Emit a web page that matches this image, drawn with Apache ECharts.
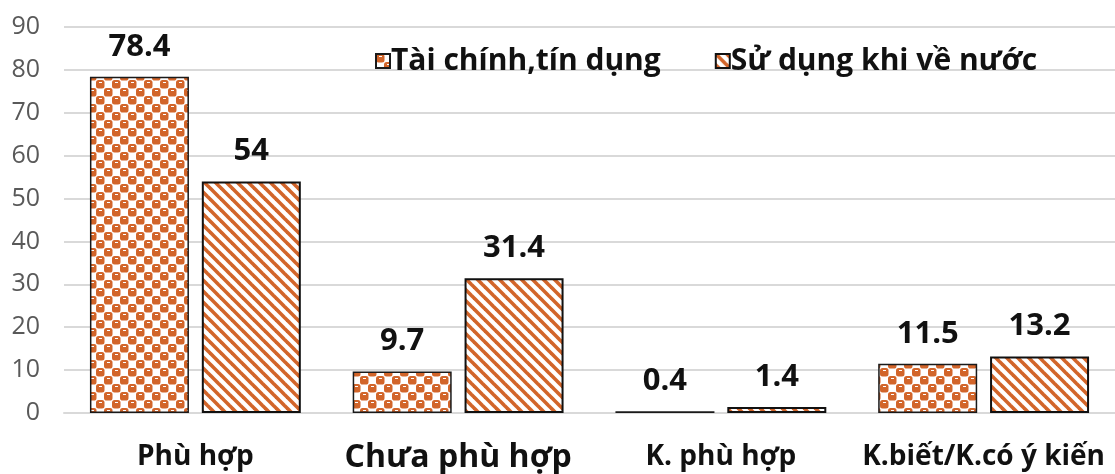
<!DOCTYPE html>
<html>
<head>
<meta charset="utf-8">
<script src="https://cdn.jsdelivr.net/npm/echarts@6/dist/echarts.min.js"></script>
<style>
  html, body { margin: 0; padding: 0; background: #fff; }
  #chart { width: 1115px; height: 474px; }
</style>
</head>
<body>
<div id="chart"></div>
<script>
// Categories, series and axis ticks
const categories = ['Phù hợp', 'Chưa phù hợp', 'K. phù hợp', 'K.biết/K.có ý kiến'];
const seriesNames = ['Tài chính,tín dụng', 'Sử dụng khi về nước'];
const financeValues = [78.4, 9.7, 0.4, 11.5];
const returnUseValues = [54, 31.4, 1.4, 13.2];
const yTicks = [0, 10, 20, 30, 40, 50, 60, 70, 80, 90];

const ORANGE = '#D2652A';
const FONT = '"Open Sans", Lato, sans-serif';

// Checker fill: orange rounded blocks on alternating cells, each with a small highlight
function checkerPattern() {
  const c = document.createElement('canvas');
  c.width = 16; c.height = 16;
  const g = c.getContext('2d');
  g.fillStyle = '#fff';
  g.fillRect(0, 0, 16, 16);
  g.fillStyle = ORANGE;
  const block = (x, y) => {
    g.beginPath();
    if (g.roundRect) g.roundRect(x, y, 8.5, 8.5, 2.5);
    else g.rect(x, y, 8.5, 8.5);
    g.fill();
  };
  [[0, 0], [8, 8], [16, 0], [-8, 8], [0, 16], [16, 16], [8, -8], [-8, -8]].forEach(p => block(p[0], p[1]));
  g.fillStyle = '#fff';
  g.fillRect(3, 2, 3, 1);
  g.fillRect(11, 10, 3, 1);
  return c;
}

// Diagonal stripes running from top-left to bottom-right
function stripePattern() {
  const s = 11;
  const c = document.createElement('canvas');
  c.width = s; c.height = s;
  const g = c.getContext('2d');
  g.fillStyle = '#fff';
  g.fillRect(0, 0, s, s);
  g.strokeStyle = ORANGE;
  g.lineWidth = 3.6;
  for (let k = -1; k <= 1; k++) {
    g.beginPath();
    g.moveTo(k * s - 2, -2);
    g.lineTo(k * s + s + 2, s + 2);
    g.stroke();
  }
  return c;
}

const chart = echarts.init(document.getElementById('chart'), null, { renderer: 'canvas' });

const labelStyle = {
  show: true,
  position: 'top',
  distance: 15,
  color: '#111',
  fontFamily: FONT,
  fontWeight: 'bold',
  fontSize: 31,
  lineHeight: 30
};

chart.setOption({
  animation: false,
  backgroundColor: '#fff',
  grid: { left: 64, right: -2, top: 27, bottom: 61, containLabel: false },
  legend: {
    top: 40,
    left: 370,
    itemWidth: 14,
    itemHeight: 14,
    itemGap: 54,
    icon: 'rect',
    textStyle: { fontFamily: FONT, fontWeight: 'bold', fontSize: 30, lineHeight: 32, color: '#111', padding: [0, 0, 0, -4] },
    data: seriesNames
  },
  xAxis: {
    type: 'category',
    data: categories,
    axisLine: { show: true, lineStyle: { color: '#d9d9d9', width: 2 } },
    axisTick: { show: false },
    axisLabel: {
      margin: 30,
      interval: 0,
      color: '#111',
      fontFamily: FONT,
      fontWeight: 'bold',
      fontSize: 28,
      lineHeight: 29,
      formatter: v => v === 'Chưa phù hợp' ? '{big|' + v + '}' : v,
      rich: {
        big: { fontFamily: FONT, fontWeight: 'bold', fontSize: 32, lineHeight: 29, color: '#111' }
      }
    }
  },
  yAxis: {
    type: 'value',
    min: yTicks[0],
    max: yTicks[yTicks.length - 1],
    interval: 10,
    axisLine: { show: false },
    axisTick: { show: false },
    splitLine: { lineStyle: { color: '#d9d9d9', width: 2 } },
    axisLabel: { margin: 24, color: '#595959', fontFamily: FONT, fontSize: 25 }
  },
  series: [
    {
      name: seriesNames[0],
      type: 'bar',
      data: financeValues,
      barWidth: 99,
      barGap: '13%',
      itemStyle: {
        color: { image: checkerPattern(), repeat: 'repeat' },
        borderColor: '#1a1a1a',
        borderWidth: 1.5
      },
      label: labelStyle
    },
    {
      name: seriesNames[1],
      type: 'bar',
      data: returnUseValues,
      barWidth: 99,
      itemStyle: {
        color: { image: stripePattern(), repeat: 'repeat' },
        borderColor: '#111',
        borderWidth: 2
      },
      label: labelStyle
    }
  ]
});
</script>
</body>
</html>
